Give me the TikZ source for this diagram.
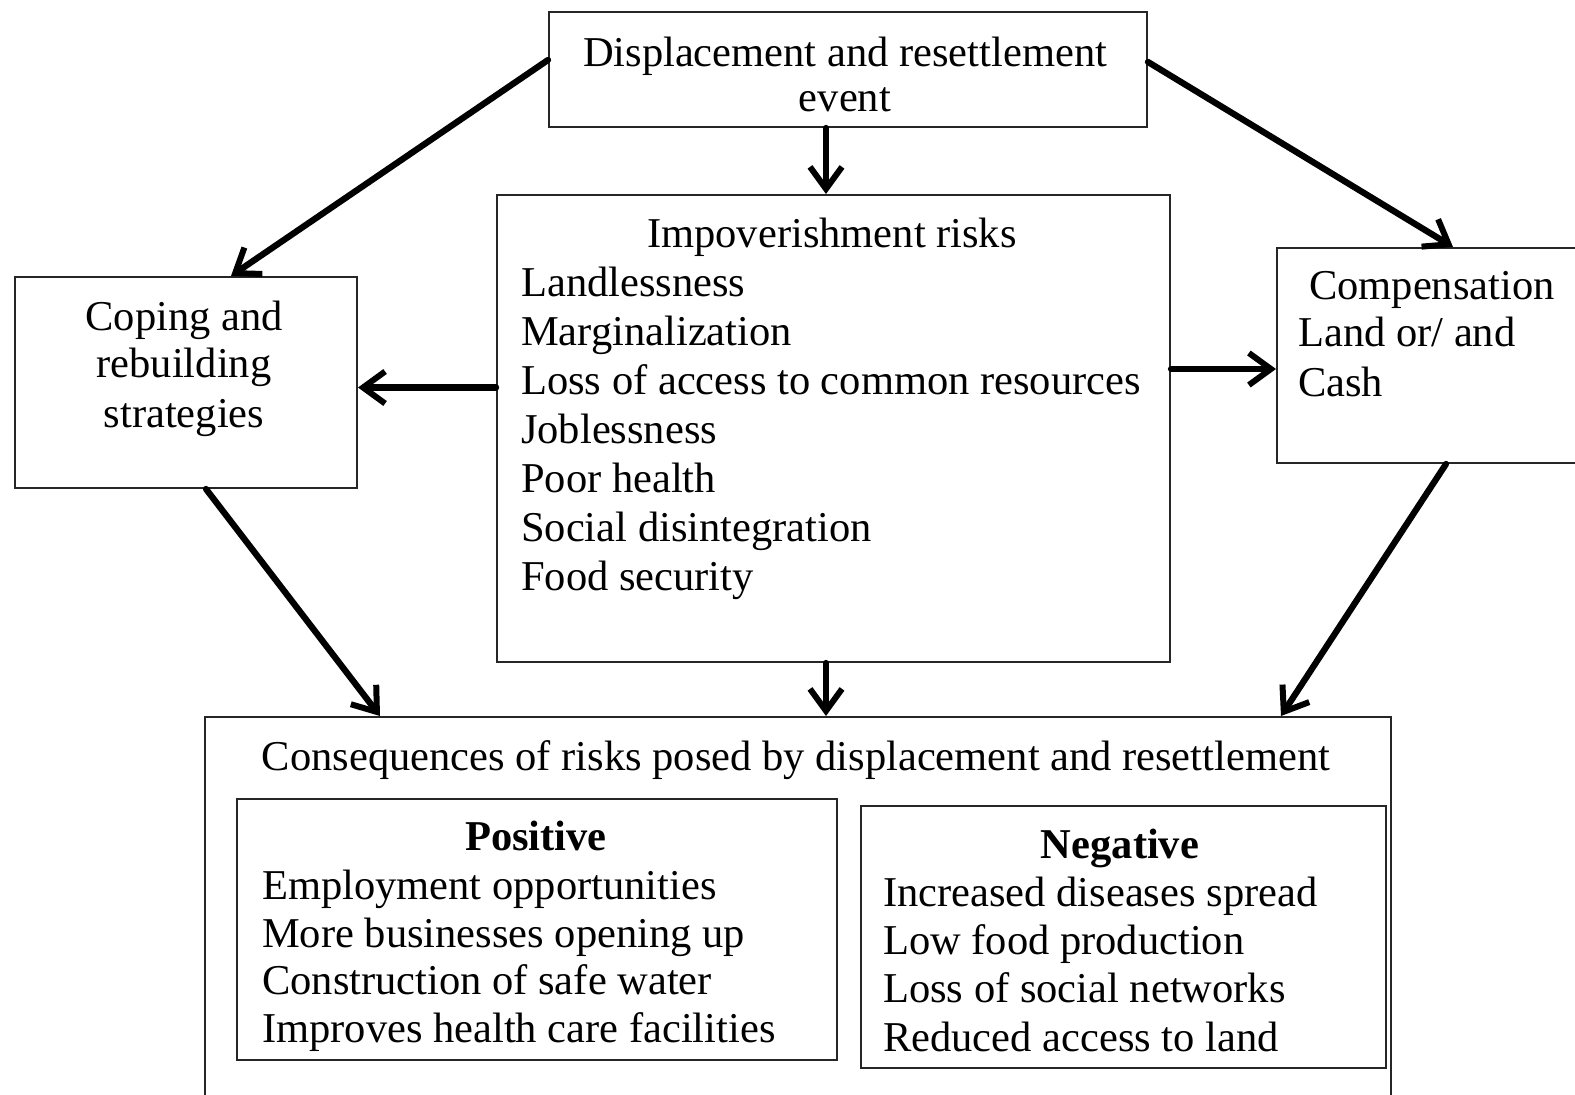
\documentclass[tikz,border=0pt]{standalone}
\usepackage{fontspec}
\setmainfont{Liberation Serif}
\usetikzlibrary{arrows.meta}
\begin{document}
\begin{tikzpicture}[x=1pt,y=-1pt,
  box/.style={draw=black!85, line width=2pt, inner sep=0pt, rectangle},
  subbox/.style={box, line width=2.6pt},
  txt/.style={inner sep=0pt, font=\fontsize{42.5}{48}\selectfont},
  head/.style={txt, font=\fontsize{42.5}{48}\selectfont\bfseries},
  flow/.style={line width=6.3pt, line cap=round,
    -{Straight Barb[length=22pt,width=32pt,line width=6pt]}}]
\useasboundingbox (0,0) rectangle (1575,1095);

% boxes
\node[box, minimum width=598pt, minimum height=115pt] (ev) at (848,69.5) {};
\node[box, minimum width=673pt, minimum height=467pt] (risk) at (833.5,428.5) {};
\node[box, minimum width=342pt, minimum height=211pt] (cope) at (186,382.5) {};
\node[box, minimum width=308pt, minimum height=215pt] (comp) at (1431,355.5) {};
\node[box, minimum width=1186pt, minimum height=393pt] (cons) at (798,913.5) {};
\node[subbox, minimum width=600pt, minimum height=261pt] (pos) at (537,929.5) {};
\node[subbox, minimum width=525pt, minimum height=262pt] (neg) at (1123.5,937) {};

% event
\node[txt, anchor=base] (ev1) at (845,66) {Displacement and resettlement};
\node[txt, anchor=base] (ev2) at (845,111) {event};

% impoverishment risks
\node[txt, anchor=base] (rt) at (832,247) {Impoverishment risks};
\foreach \t [count=\i] in {Landlessness, Marginalization,
    Loss of access to common resources, Joblessness, Poor health,
    Social disintegration, Food security}
  \node[txt, anchor=base west] (r\i) at (521,247+49.1*\i) {\t};

% coping
\node[txt, anchor=base] (c1) at (184,330) {Coping and};
\node[txt, anchor=base] (c2) at (184,377) {rebuilding};
\node[txt, anchor=base] (c3) at (184,427) {strategies};

% compensation
\node[txt, anchor=base west] (k1) at (1309,299) {Compensation};
\node[txt, anchor=base west] (k2) at (1298,346) {Land or/ and};
\node[txt, anchor=base west] (k3) at (1298,396) {Cash};

% consequences
\node[txt, anchor=base] (ct) at (796,770) {Consequences of risks posed by displacement and resettlement};
\node[head, anchor=base] (pt) at (536,850) {Positive};
\foreach \t [count=\i] in {Employment opportunities, More businesses opening up,
    Construction of safe water, Improves health care facilities}
  \node[txt, anchor=base west] (p\i) at (262,851.5+47.8*\i) {\t};
\node[head, anchor=base] (nt) at (1120,858) {Negative};
\foreach \t [count=\i] in {Increased diseases spread, Low food production,
    Loss of social networks, Reduced access to land}
  \node[txt, anchor=base west] (n\i) at (883,858+48.3*\i) {\t};

% connectors
\draw[flow] ([yshift=9.5pt]ev.west) -- ([xshift=45pt]cope.north);
\draw[flow] ([xshift=-22pt]ev.south) -- ([xshift=-22pt]ev.south |- risk.north);
\draw[flow] ([yshift=7.5pt]ev.east) -- ([xshift=22pt]comp.north);
\draw[flow] ([yshift=41pt]risk.west) -- ([yshift=41pt]risk.west -| cope.east);
\draw[flow] ([yshift=59.5pt]risk.east) -- ([yshift=59.5pt]risk.east -| comp.west);
\draw[flow] ([xshift=20pt]cope.south) -- ([xshift=-418pt]cons.north);
\draw[flow] ([xshift=-7.5pt]risk.south) -- ([xshift=-7.5pt]risk.south |- cons.north);
\draw[flow] ([xshift=15pt]comp.south) -- ([xshift=483pt]cons.north);
\end{tikzpicture}
\end{document}
